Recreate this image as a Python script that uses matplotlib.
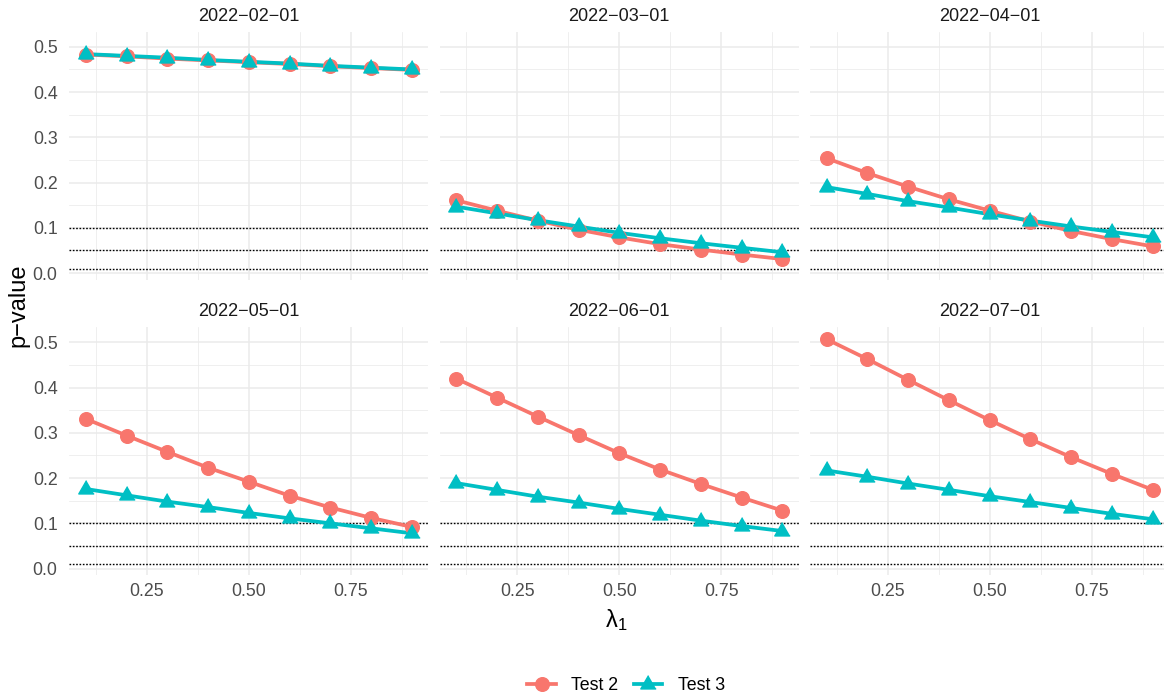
import matplotlib
matplotlib.use("Agg")
from matplotlib import pyplot as plt
from matplotlib.lines import Line2D
from matplotlib.ticker import MultipleLocator

plt.rcParams['font.family'] = ['Liberation Sans', 'DejaVu Sans']
plt.rcParams['mathtext.fontset'] = 'custom'
plt.rcParams['mathtext.rm'] = 'Liberation Sans'
plt.rcParams['mathtext.it'] = 'Liberation Sans:italic'

# data
lam = [0.1, 0.2, 0.3, 0.4, 0.5, 0.6, 0.7, 0.8, 0.9]
dates = ['2022\u221202\u221201', '2022\u221203\u221201', '2022\u221204\u221201',
         '2022\u221205\u221201', '2022\u221206\u221201', '2022\u221207\u221201']

test2 = [
    [0.483, 0.479, 0.474, 0.470, 0.466, 0.462, 0.457, 0.453, 0.449],
    [0.161, 0.138, 0.116, 0.096, 0.079, 0.064, 0.052, 0.041, 0.031],
    [0.254, 0.221, 0.191, 0.163, 0.138, 0.114, 0.093, 0.075, 0.059],
    [0.331, 0.294, 0.258, 0.223, 0.192, 0.161, 0.135, 0.112, 0.092],
    [0.420, 0.378, 0.336, 0.295, 0.255, 0.219, 0.187, 0.157, 0.128],
    [0.507, 0.463, 0.417, 0.372, 0.328, 0.286, 0.246, 0.209, 0.174],
]
test3 = [
    [0.484, 0.480, 0.476, 0.471, 0.467, 0.463, 0.458, 0.454, 0.450],
    [0.147, 0.132, 0.117, 0.103, 0.089, 0.077, 0.066, 0.056, 0.046],
    [0.190, 0.175, 0.159, 0.145, 0.130, 0.116, 0.103, 0.091, 0.079],
    [0.176, 0.162, 0.148, 0.136, 0.123, 0.111, 0.100, 0.089, 0.078],
    [0.189, 0.174, 0.159, 0.146, 0.132, 0.119, 0.106, 0.094, 0.083],
    [0.217, 0.203, 0.188, 0.174, 0.160, 0.147, 0.134, 0.121, 0.109],
]
cutoffs = [0.01, 0.05, 0.1]

red = '#F8766D'
teal = '#00BFC4'
tri = [(0, 0.577), (-0.5, -0.289), (0.5, -0.289)]

W, H = 1164, 698
fig = plt.figure(figsize=(W / 100, H / 100), dpi=100)

lefts = [69.4, 439.8, 810.2]
tops = [31.9, 327.4]
pw, ph = 359, 248

for k, date in enumerate(dates):
    r, c = divmod(k, 3)
    ax = fig.add_axes([lefts[c] / W, 1 - (tops[r] + ph) / H, pw / W, ph / H])
    ax.set_xlim(0.06, 0.94)
    ax.set_ylim(-0.015, 0.533)
    for s in ax.spines.values():
        s.set_visible(False)
    ax.xaxis.set_major_locator(MultipleLocator(0.25))
    ax.xaxis.set_minor_locator(MultipleLocator(0.125))
    ax.yaxis.set_major_locator(MultipleLocator(0.1))
    ax.yaxis.set_minor_locator(MultipleLocator(0.05))
    ax.grid(which='major', color='#EBEBEB', lw=1.1)
    ax.grid(which='minor', color='#EBEBEB', lw=0.55)
    ax.set_axisbelow(True)
    ax.tick_params(which='both', length=0, labelsize=12.8, colors='#4D4D4D')
    ax.tick_params(axis='y', pad=8.5)
    ax.tick_params(axis='x', pad=5.6)
    ax.set_xticks([0.25, 0.5, 0.75])
    ax.set_xticklabels(['0.25', '0.50', '0.75'])
    ax.set_yticks([0.0, 0.1, 0.2, 0.3, 0.4, 0.5])
    ax.set_yticklabels(['0.0', '0.1', '0.2', '0.3', '0.4', '0.5'])
    if c != 0:
        ax.tick_params(axis='y', labelleft=False)
    if r == 0:
        ax.tick_params(axis='x', labelbottom=False)

    for yv in cutoffs:
        ax.axhline(yv, color='black', lw=1.0, ls=(0, (1.2, 1.2)), zorder=1.5)

    ax.plot(lam, test2[k], color=red, lw=2.7, zorder=2)
    ax.plot(lam, test3[k], color=teal, lw=2.7, zorder=2)
    ax.plot(lam, test2[k], ls='none', marker='o', ms=9.8, color=red, zorder=3)
    ax.plot(lam, test3[k], ls='none', marker=tri, ms=12.8, color=teal, zorder=3)

    ax.text(0.5, 1.064, date, transform=ax.transAxes, ha='center', va='center',
            fontsize=13, color='#1A1A1A')

fig.text(616 / W, 1 - 620 / H, r'$\mathregular{\lambda_1}$', ha='center', va='center',
         fontsize=17)
fig.text(18 / W, 1 - 305 / H, 'p\u2212value', ha='center', va='center',
         rotation=90, fontsize=17)

handles = [
    Line2D([], [], color=red, lw=2.7, marker='o', ms=9.8),
    Line2D([], [], color=teal, lw=2.7, marker=tri, ms=12.8),
]
fig.legend(handles, ['Test 2', 'Test 3'], loc='center', ncol=2,
           bbox_to_anchor=(626 / W, 12 / H), frameon=False, fontsize=12.8,
           handlelength=1.6, handletextpad=0.85, columnspacing=0.9)

fig.savefig('out.png', dpi=100)
